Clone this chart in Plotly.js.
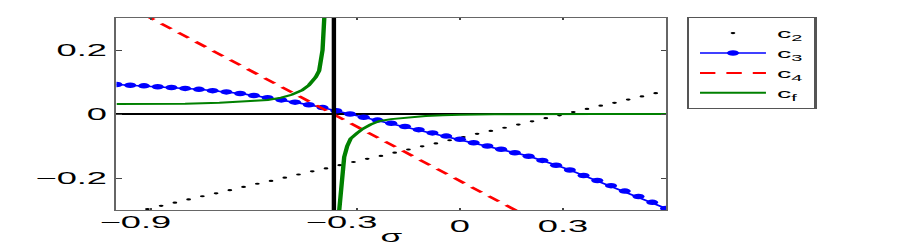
<!DOCTYPE html>
<html>
<head>
<meta charset="utf-8">
<script src="https://cdn.plot.ly/plotly-3.0.1.min.js"></script>
<style>
  html, body { margin: 0; padding: 0; background: #ffffff; }
  #wrap { width: 899px; height: 245px; overflow: hidden; position: relative; }
  #plot { width: 409px; height: 245px; transform: scaleX(2.198); transform-origin: 0 0; }
</style>
</head>
<body>
<div id="wrap"><div id="plot"></div></div>
<script>
// ---- data ----
const c2X = [-0.91,-0.87,-0.83,-0.79,-0.75,-0.71,-0.67,-0.63,-0.59,-0.55,-0.51,-0.47,-0.43,-0.39,-0.35,-0.31,-0.27,-0.23,-0.19,-0.15,-0.11,-0.07,-0.03,0.01,0.05,0.09,0.13,0.17,0.21,0.25,0.29,0.33,0.37,0.41,0.45,0.49,0.53,0.57];
const c2Y = [-0.297,-0.287,-0.277,-0.267,-0.257,-0.248,-0.238,-0.228,-0.218,-0.209,-0.199,-0.189,-0.179,-0.170,-0.160,-0.150,-0.140,-0.131,-0.121,-0.111,-0.101,-0.092,-0.082,-0.072,-0.062,-0.053,-0.043,-0.033,-0.023,-0.013,-0.004,0.006,0.016,0.026,0.035,0.045,0.055,0.065];

const c3X = [-1.00,-0.96,-0.92,-0.88,-0.84,-0.80,-0.76,-0.72,-0.68,-0.64,-0.60,-0.56,-0.52,-0.48,-0.44,-0.40,-0.36,-0.32,-0.28,-0.24,-0.20,-0.16,-0.12,-0.08,-0.04,0.00,0.04,0.08,0.12,0.16,0.20,0.24,0.28,0.32,0.36,0.40,0.44,0.48,0.52,0.56,0.60];
const c3Y = [0.092,0.090,0.088,0.085,0.083,0.080,0.077,0.073,0.069,0.064,0.058,0.051,0.044,0.037,0.029,0.020,0.010,0.000,-0.010,-0.019,-0.029,-0.039,-0.049,-0.059,-0.069,-0.079,-0.090,-0.100,-0.110,-0.121,-0.132,-0.145,-0.160,-0.175,-0.192,-0.208,-0.224,-0.241,-0.258,-0.276,-0.295];

const c4X = [-0.92, 0.18];
const c4Y = [0.311, -0.311];

const cfLeftX = [-1.00,-0.90,-0.80,-0.70,-0.62,-0.56,-0.52,-0.49,-0.46,-0.44,-0.42,-0.41,-0.40,-0.397,-0.394];
const cfLeftY = [0.031,0.031,0.032,0.035,0.039,0.044,0.051,0.060,0.074,0.090,0.115,0.135,0.200,0.250,0.320];
const cfRightX = [-0.354,-0.350,-0.342,-0.337,-0.328,-0.318,-0.300,-0.284,-0.260,-0.235,-0.200,-0.150,-0.100,-0.050,0.000,0.100,0.200,0.400,0.600];
const cfRightY = [-0.330,-0.280,-0.205,-0.135,-0.100,-0.077,-0.060,-0.047,-0.033,-0.022,-0.016,-0.010,-0.006,-0.004,-0.002,-0.001,0.000,0.000,0.000];

const poleX = [-0.367];

const xTickVals = [-0.9, -0.3, 0, 0.3];
const xTickText = ['\u22120.9', '\u22120.3', '0', '0.3'];
const yTickVals = [-0.2, 0, 0.2];
const yTickText = ['\u22120.2', '0', '0.2'];

const seriesNames = ['c<sub>2</sub>', 'c<sub>3</sub>', 'c<sub>4</sub>', 'c<sub>f</sub>'];

// ---- build ----
const FONT = 'Liberation Sans, Arial, Helvetica, sans-serif';
const cfX = cfLeftX.concat([null], cfRightX);
const cfY = cfLeftY.concat([null], cfRightY);

// Negative tick labels go on an overlaid axis so that, as in the reference,
// the number (not the minus sign) sits centred under its tick.
const negTickVals = xTickVals.filter(v => v < 0);
const negTickText = xTickText.filter((t, i) => xTickVals[i] < 0);
const mainTickText = xTickText.map((t, i) => (xTickVals[i] < 0 ? ' ' : t));

const traces = [
  { x: c2X, y: c2Y, name: seriesNames[0], type: 'scatter', mode: 'markers',
    marker: { color: '#000000', size: 2.2 } },
  { x: c3X, y: c3Y, name: seriesNames[1], type: 'scatter', mode: 'lines+markers',
    line: { color: '#0000ff', width: 1.5 }, marker: { color: '#0000ff', size: 5.5 } },
  { x: c4X, y: c4Y, name: seriesNames[2], type: 'scatter', mode: 'lines',
    line: { color: '#ff0000', width: 2, dash: '7px,5px' } },
  { x: cfX, y: cfY, name: seriesNames[3], type: 'scatter', mode: 'lines',
    line: { color: '#008000', width: 2 }, connectgaps: false },
  // empty carrier so the overlaid label axis is created
  { x: [], y: [], xaxis: 'x2', yaxis: 'y', type: 'scatter', mode: 'lines',
    showlegend: false, hoverinfo: 'skip' }
];

const tickFont = { family: FONT, size: 16.5, color: '#000000' };

const layout = {
  width: 409, height: 245,
  margin: { l: 52.8, r: 105.7, t: 18, b: 35, pad: 0 },
  paper_bgcolor: '#ffffff', plot_bgcolor: '#ffffff',
  font: { family: FONT, color: '#000000' },
  showlegend: true,
  legend: {
    xref: 'container', yref: 'container', x: 0.764, y: 0.93,
    xanchor: 'left', yanchor: 'top',
    bgcolor: '#ffffff', bordercolor: '#555555', borderwidth: 1,
    font: { family: FONT, size: 13, color: '#000000' },
    traceorder: 'normal', tracegroupgap: 0
  },
  xaxis: {
    range: [-1, 0.6], tickmode: 'array', tickvals: xTickVals, ticktext: mainTickText,
    ticks: 'inside', ticklen: 2, tickwidth: 1, tickcolor: '#444444',
    showline: true, linecolor: '#666666', linewidth: 1, mirror: 'ticks',
    showgrid: false, zeroline: false, ticklabelstandoff: 1,
    tickfont: tickFont,
    title: { text: 'σ', font: { family: FONT, size: 16, color: '#000000' }, standoff: 0 }
  },
  xaxis2: {
    overlaying: 'x', anchor: 'y', side: 'bottom',
    range: [-1, 0.6], tickmode: 'array', tickvals: negTickVals, ticktext: negTickText,
    ticks: 'inside', ticklen: 2, tickwidth: 1, tickcolor: '#444444',
    showline: false, showgrid: false, zeroline: false,
    ticklabelstandoff: 1, ticklabelshift: -7,
    tickfont: tickFont
  },
  yaxis: {
    range: [-0.3, 0.3], tickmode: 'array', tickvals: yTickVals, ticktext: yTickText,
    ticks: 'inside', ticklen: 2.3, tickwidth: 1, tickcolor: '#444444',
    showline: true, linecolor: '#666666', linewidth: 1, mirror: 'ticks',
    showgrid: false, zeroline: true, zerolinecolor: '#000000', zerolinewidth: 1.6,
    tickfont: tickFont
  },
  shapes: [
    { type: 'line', xref: 'x', yref: 'paper', x0: poleX[0], x1: poleX[0], y0: 0, y1: 1,
      line: { color: '#000000', width: 2 }, layer: 'above' }
  ]
};

Plotly.newPlot('plot', traces, layout, { staticPlot: true, displayModeBar: false });
</script>
</body>
</html>
